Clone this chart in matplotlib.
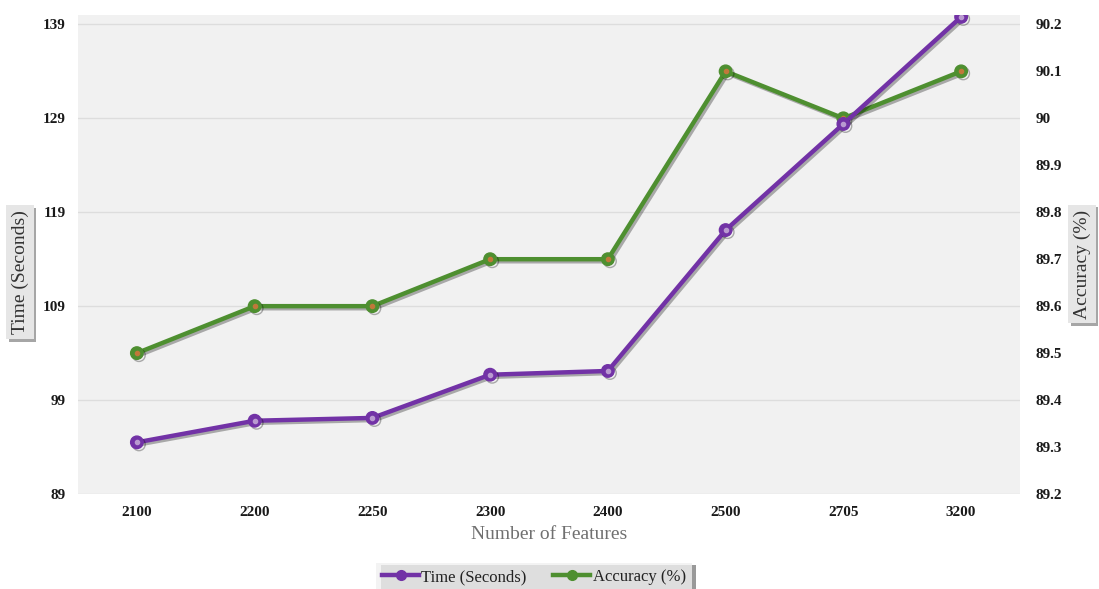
import matplotlib
matplotlib.use("Agg")
import matplotlib.pyplot as plt
import matplotlib.patheffects as pe
import numpy as np

features = ["2100", "2200", "2250", "2300", "2400", "2500", "2705", "3200"]
time_seconds = [94.5, 96.8, 97.1, 101.7, 102.1, 117.1, 128.4, 139.8]
accuracy_pct = [89.5, 89.6, 89.6, 89.7, 89.7, 90.1, 90.0, 90.1]

time_ticks = [89, 99, 109, 119, 129, 139]
acc_ticks = [89.2, 89.3, 89.4, 89.5, 89.6, 89.7, 89.8, 89.9, 90.0, 90.1, 90.2]
acc_labels = ["89.2", "89.3", "89.4", "89.5", "89.6", "89.7", "89.8", "89.9", "90", "90.1", "90.2"]

PURPLE = "#7232a6"
GREEN = "#4e8f30"
SERIF = ["Liberation Serif", "DejaVu Serif"]

fig = plt.figure(figsize=(10.99, 5.89), dpi=100)
ax = fig.add_axes([78 / 1099, 1 - 494 / 589, (1020 - 78) / 1099, (494 - 15) / 589])
ax2 = ax.twinx()

ax.set_facecolor("#f1f1f1")
for a in (ax, ax2):
    for s in a.spines.values():
        s.set_visible(False)
    a.tick_params(length=0)

x = np.arange(len(features))
ax.set_xlim(-0.5, len(features) - 0.5)
ax.set_ylim(89, 140)
ax2.set_ylim(89.2, 90.22)

tick_font = dict(fontfamily=SERIF, fontweight="bold", fontsize=11, color="#1a1a1a")
ax.set_yticks(time_ticks)
ax.set_yticklabels([str(t) for t in time_ticks], **tick_font)
ax2.set_yticks(acc_ticks)
ax2.set_yticklabels(acc_labels, **tick_font)
ax.set_xticks(x)
ax.set_xticklabels(features, **tick_font)
ax.tick_params(axis="y", pad=9)
ax2.tick_params(axis="y", pad=11)
ax.tick_params(axis="x", pad=9)

ax.grid(axis="y", color="#dddddd", linewidth=1.0)
ax.set_axisbelow(True)

shadow = [pe.SimpleLineShadow(offset=(1.5, -1.5), shadow_color="#000000", alpha=0.3),
          pe.Normal()]

ax2.plot(x, accuracy_pct, color=GREEN, linewidth=3.2, marker="o", markersize=9,
         markerfacecolor=GREEN, markeredgecolor=GREEN, path_effects=shadow, zorder=3,
         label="Accuracy (%)")
ax2.plot(x, accuracy_pct, linestyle="none", marker="o", markersize=3,
         color="#c0783a", zorder=4)

# the time series is drawn on the secondary axes so it sits above the accuracy line
t_to_acc = lambda v: 89.2 + (v - 89) * (90.22 - 89.2) / (140 - 89)
ax2.plot(x, [t_to_acc(v) for v in time_seconds], color=PURPLE, linewidth=3.2, marker="o",
         markersize=9, markerfacecolor=PURPLE, markeredgecolor=PURPLE,
         path_effects=shadow, zorder=5, label="Time (Seconds)")
ax2.plot(x, [t_to_acc(v) for v in time_seconds], linestyle="none", marker="o",
         markersize=3, color="#b99ad0", zorder=6)

ax.set_xlabel("Number of Features", fontfamily=SERIF, fontsize=14, color="#707070",
              labelpad=5)


def boxed_label(xc, yc, text):
    t = fig.text(xc, yc, text, rotation=90, ha="center", va="center",
                 fontfamily=SERIF, fontsize=14, color="#333333",
                 bbox=dict(boxstyle="square,pad=0.25", facecolor="#e6e6e6",
                           edgecolor="none"))
    t.get_bbox_patch().set_path_effects([
        pe.SimplePatchShadow(offset=(2, -2), shadow_rgbFace="#000000", alpha=0.35),
        pe.Normal()])
    return t


boxed_label(20 / 1099, 1 - 272 / 589, "Time (Seconds)")
boxed_label(1082 / 1099, 1 - 264 / 589, "Accuracy (%)")

# legend at the bottom
handles = [plt.Line2D([], [], color=PURPLE, linewidth=3.2, marker="o", markersize=7),
           plt.Line2D([], [], color=GREEN, linewidth=3.2, marker="o", markersize=7)]
leg = fig.legend(handles, ["Time (Seconds)", "Accuracy (%)"], loc="center",
                 bbox_to_anchor=(534 / 1099, 1 - 577 / 589), ncol=2, frameon=True,
                 fancybox=False, shadow=False,
                 prop={"family": SERIF, "size": 12}, handlelength=2.2,
                 handletextpad=0.15, columnspacing=1.6, borderpad=0.35)
frame = leg.get_frame()
frame.set_facecolor("#f0f0f0")
frame.set_edgecolor("none")
frame.set_path_effects([pe.SimplePatchShadow(offset=(3, -1), shadow_rgbFace="#000000",
                                             alpha=0.4), pe.Normal()])
for t in leg.get_texts():
    t.set_color("#222222")

fig.savefig("out.png", dpi=100, facecolor="white")
